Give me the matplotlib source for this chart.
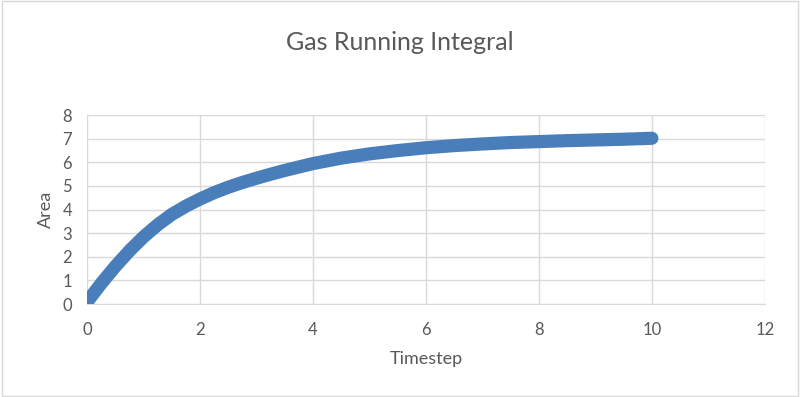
import matplotlib
matplotlib.use("Agg")
from matplotlib import pyplot as plt

# values
timestep = [0, 0.25, 0.5, 0.75, 1, 1.25, 1.5, 1.75, 2, 2.25, 2.5, 2.75, 3,
            3.25, 3.5, 4, 4.5, 5, 5.5, 6, 6.5, 7, 7.5, 8, 8.5, 9, 9.5, 10]
area = [0.1, 0.88, 1.6, 2.26, 2.85, 3.36, 3.8, 4.15, 4.45, 4.72, 4.95, 5.15,
        5.33, 5.5, 5.66, 5.95, 6.18, 6.36, 6.5, 6.62, 6.71, 6.78, 6.84, 6.88,
        6.92, 6.95, 6.98, 7.02]
xticks = [0, 2, 4, 6, 8, 10, 12]
yticks = [0, 1, 2, 3, 4, 5, 6, 7, 8]

plt.rcParams['font.family'] = ['Lato', 'DejaVu Sans']
text_col = '#595959'
grid_col = '#d9d9d9'

fig = plt.figure(figsize=(8, 3.97), dpi=100)
ax = fig.add_axes([0.109, 0.234, 0.847, 0.476])

ax.plot(timestep, area, color='#4a7ebb', linewidth=9.5,
        solid_capstyle='round', solid_joinstyle='round', zorder=3)

ax.set_xlim(0, 12)
ax.set_ylim(0, 8)
ax.set_xticks(xticks)
ax.set_yticks(yticks)
ax.grid(True, color=grid_col, linewidth=1)
ax.set_axisbelow(True)
for s in ax.spines.values():
    s.set_visible(False)
ax.spines['bottom'].set_visible(True)
ax.spines['bottom'].set_color(grid_col)
ax.tick_params(axis='both', length=0, labelsize=12, labelcolor=text_col)
ax.tick_params(axis='x', pad=13)
ax.tick_params(axis='y', pad=11)

fig.text(0.5, 1 - 42 / 397, "Gas Running Integral", fontsize=18, color=text_col,
         ha='center', va='center')
ax.set_xlabel("Timestep", fontsize=13, color=text_col, labelpad=9)
ax.set_ylabel("Area", fontsize=13, color=text_col, labelpad=6)

# light outer frame
fig.patches.append(plt.Rectangle((0.002, 0.003), 0.995, 0.994, transform=fig.transFigure,
                                 fill=False, edgecolor='#d9d9d9', linewidth=1))

fig.savefig("out.png", dpi=100)
